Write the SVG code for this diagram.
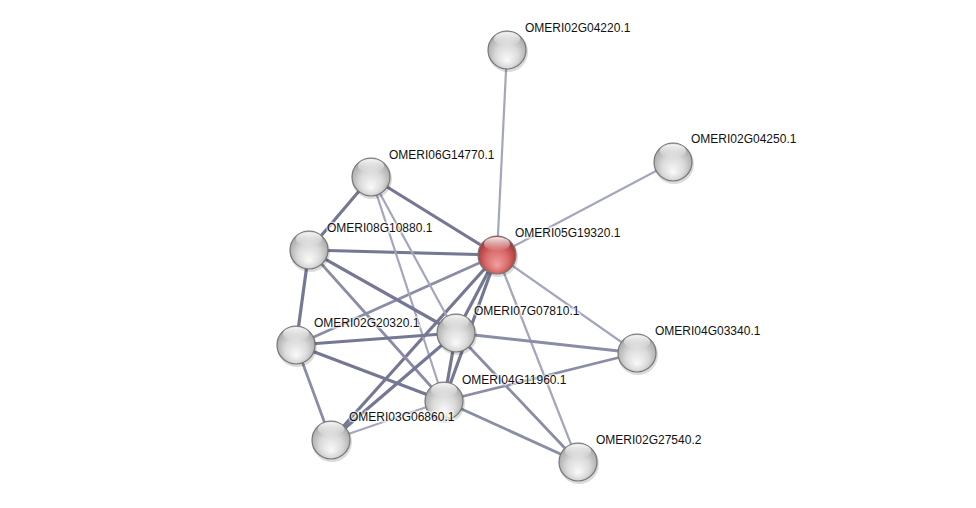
<svg xmlns="http://www.w3.org/2000/svg" width="976" height="508" viewBox="0 0 976 508">
<defs>
<radialGradient id="gw" cx="50%" cy="55%" r="55%" fx="50%" fy="78%">
<stop offset="0" stop-color="#fafafa"/>
<stop offset="0.55" stop-color="#dadada"/>
<stop offset="1" stop-color="#a6a6a6"/>
</radialGradient>
<radialGradient id="gr" cx="50%" cy="55%" r="55%" fx="50%" fy="78%">
<stop offset="0" stop-color="#f2a0a0"/>
<stop offset="0.55" stop-color="#d96a6a"/>
<stop offset="1" stop-color="#a33030"/>
</radialGradient>
<linearGradient id="hl" x1="0" y1="0" x2="0" y2="1">
<stop offset="0" stop-color="#ffffff" stop-opacity="0.9"/>
<stop offset="1" stop-color="#ffffff" stop-opacity="0"/>
</linearGradient>
</defs>
<style>
.e{fill:none;stroke-linecap:round}
.d{stroke:#747893;stroke-width:3.2}
.m{stroke:#8a8da6;stroke-width:2.8}
.l{stroke:#a4a7bc;stroke-width:2.2}
.s{stroke:#777;stroke-width:1.2}
.sh{fill:#000;opacity:0.14}
.t{font-family:"Liberation Sans",Arial,sans-serif;font-size:12px;fill:#111;stroke:#fff;stroke-width:3;stroke-opacity:0.6;paint-order:stroke}
</style>
<rect width="976" height="508" fill="#fff"/>
<g id="connectors">
<line class="e l" x1="497" y1="255" x2="507" y2="50"/>
<line class="e l" x1="497" y1="255" x2="673" y2="162"/>
<line class="e d" x1="497" y1="255" x2="371" y2="177"/>
<line class="e d" x1="497" y1="255" x2="309" y2="250"/>
<line class="e m" x1="497" y1="255" x2="296" y2="345"/>
<line class="e d" x1="497" y1="255" x2="456" y2="333"/>
<line class="e d" x1="497" y1="255" x2="444" y2="401"/>
<line class="e d" x1="497" y1="255" x2="331" y2="440"/>
<line class="e l" x1="497" y1="255" x2="637" y2="353"/>
<line class="e l" x1="497" y1="255" x2="578" y2="462"/>
<line class="e d" x1="371" y1="177" x2="309" y2="250"/>
<line class="e l" x1="371" y1="177" x2="456" y2="333"/>
<line class="e l" x1="371" y1="177" x2="444" y2="401"/>
<line class="e d" x1="309" y1="250" x2="296" y2="345"/>
<line class="e d" x1="309" y1="250" x2="456" y2="333"/>
<line class="e m" x1="309" y1="250" x2="444" y2="401"/>
<line class="e d" x1="296" y1="345" x2="456" y2="333"/>
<line class="e d" x1="296" y1="345" x2="444" y2="401"/>
<line class="e m" x1="296" y1="345" x2="331" y2="440"/>
<line class="e d" x1="456" y1="333" x2="444" y2="401"/>
<line class="e d" x1="456" y1="333" x2="331" y2="440"/>
<line class="e m" x1="456" y1="333" x2="637" y2="353"/>
<line class="e m" x1="456" y1="333" x2="578" y2="462"/>
<line class="e m" x1="444" y1="401" x2="637" y2="353"/>
<line class="e m" x1="444" y1="401" x2="578" y2="462"/>
<line class="e l" x1="444" y1="401" x2="331" y2="440"/>
</g>
<g id="OMERI02G04220.1">
<circle class="sh" cx="508" cy="52" r="20"/>
<circle class="s" cx="507" cy="50" r="19" fill="url(#gw)"/>
<ellipse cx="507" cy="39" rx="13" ry="7" fill="url(#hl)"/>
<text class="t" x="525" y="32">OMERI02G04220.1</text>
</g>
<g id="OMERI02G04250.1">
<circle class="sh" cx="674" cy="164" r="20"/>
<circle class="s" cx="673" cy="162" r="19" fill="url(#gw)"/>
<ellipse cx="673" cy="151" rx="13" ry="7" fill="url(#hl)"/>
<text class="t" x="691" y="143">OMERI02G04250.1</text>
</g>
<g id="OMERI06G14770.1">
<circle class="sh" cx="372" cy="179" r="20"/>
<circle class="s" cx="371" cy="177" r="19" fill="url(#gw)"/>
<ellipse cx="371" cy="166" rx="13" ry="7" fill="url(#hl)"/>
<text class="t" x="389" y="159">OMERI06G14770.1</text>
</g>
<g id="OMERI08G10880.1">
<circle class="sh" cx="310" cy="252" r="20"/>
<circle class="s" cx="309" cy="250" r="19" fill="url(#gw)"/>
<ellipse cx="309" cy="239" rx="13" ry="7" fill="url(#hl)"/>
<text class="t" x="327" y="232">OMERI08G10880.1</text>
</g>
<g id="OMERI05G19320.1">
<circle class="sh" cx="498" cy="257" r="20"/>
<circle class="s" cx="497" cy="255" r="19" fill="url(#gr)" stroke="#8a3030"/>
<ellipse cx="497" cy="244" rx="13" ry="7" fill="url(#hl)"/>
<text class="t" x="515" y="237">OMERI05G19320.1</text>
</g>
<g id="OMERI02G20320.1">
<circle class="sh" cx="297" cy="347" r="20"/>
<circle class="s" cx="296" cy="345" r="19" fill="url(#gw)"/>
<ellipse cx="296" cy="334" rx="13" ry="7" fill="url(#hl)"/>
<text class="t" x="314" y="327">OMERI02G20320.1</text>
</g>
<g id="OMERI07G07810.1">
<circle class="sh" cx="457" cy="335" r="20"/>
<circle class="s" cx="456" cy="333" r="19" fill="url(#gw)"/>
<ellipse cx="456" cy="322" rx="13" ry="7" fill="url(#hl)"/>
<text class="t" x="474" y="315">OMERI07G07810.1</text>
</g>
<g id="OMERI04G03340.1">
<circle class="sh" cx="638" cy="355" r="20"/>
<circle class="s" cx="637" cy="353" r="19" fill="url(#gw)"/>
<ellipse cx="637" cy="342" rx="13" ry="7" fill="url(#hl)"/>
<text class="t" x="655" y="335">OMERI04G03340.1</text>
</g>
<g id="OMERI04G11960.1">
<circle class="sh" cx="445" cy="403" r="20"/>
<circle class="s" cx="444" cy="401" r="19" fill="url(#gw)"/>
<ellipse cx="444" cy="390" rx="13" ry="7" fill="url(#hl)"/>
<text class="t" x="462" y="384">OMERI04G11960.1</text>
</g>
<g id="OMERI03G06860.1">
<circle class="sh" cx="332" cy="442" r="20"/>
<circle class="s" cx="331" cy="440" r="19" fill="url(#gw)"/>
<ellipse cx="331" cy="429" rx="13" ry="7" fill="url(#hl)"/>
<text class="t" x="349" y="421">OMERI03G06860.1</text>
</g>
<g id="OMERI02G27540.2">
<circle class="sh" cx="579" cy="464" r="20"/>
<circle class="s" cx="578" cy="462" r="19" fill="url(#gw)"/>
<ellipse cx="578" cy="451" rx="13" ry="7" fill="url(#hl)"/>
<text class="t" x="596" y="444">OMERI02G27540.2</text>
</g>
</svg>
